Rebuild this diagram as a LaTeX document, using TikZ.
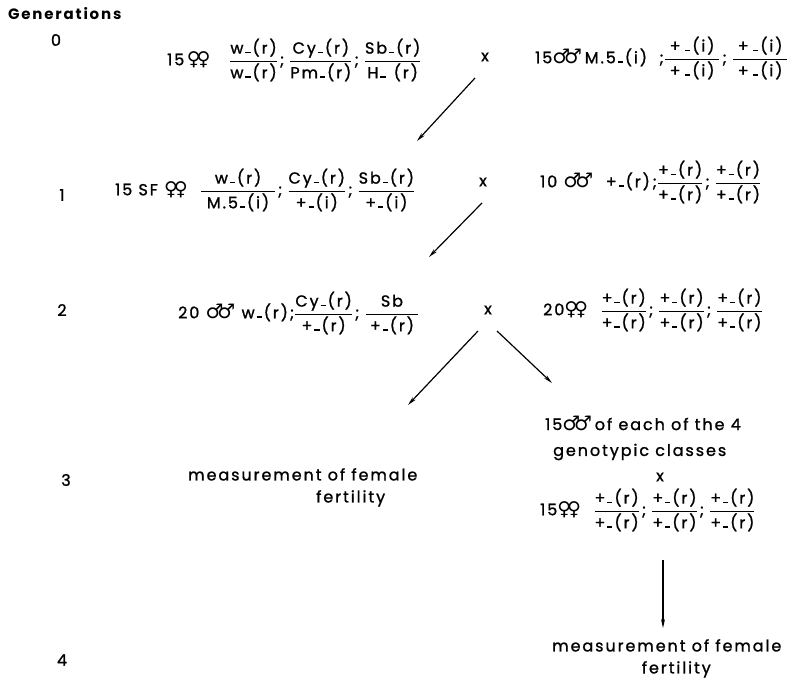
\documentclass[tikz,border=0pt]{standalone}
\usepackage{amsmath}
\usepackage{fontspec}
\setmainfont{Poppins}[LetterSpace=12, UprightFeatures={FakeBold=1.2}]
\newfontfamily\symf{DejaVu Sans}
\usetikzlibrary{arrows.meta}
\newcommand\dsh{\kern0.12em\rule[0.02ex]{0.32em}{0.11em}\kern0.12em}
\newcommand\fr[2]{$\dfrac{\text{#1}}{\text{#2}}$}
\newcommand\frw[3]{$\dfrac{\text{#2}}{\makebox[#1]{#3}}$}
\newcommand\sep{\hspace{2pt};\hspace{5pt}}
\newcommand\ff{{\symf\fontsize{19}{20}\selectfont ♀\kern-0.22em♀}}
\newcommand\mm{{\symf\fontsize{20}{20}\selectfont ♂\kern-0.3em♂}}
\begin{document}
\begin{tikzpicture}[x=1pt,y=-1pt,
  every node/.style={inner sep=0pt, font=\fontsize{16}{22}\selectfont},
  gen/.style={anchor=center},
  formula/.style={anchor=west},
  cross/.style={anchor=center},
  note/.style={align=left, anchor=north west},
  arr/.style={line width=1.2pt, -{Stealth[length=9pt,width=4pt]}}]
\useasboundingbox (0,0) rectangle (790,687);
\node[anchor=west, font=\bfseries\fontsize{15}{18}\selectfont] (head) at (8,14) {Generations};
% row 0
\node[gen] (g0) at (56,40) {0};
\node[formula] (L0) at (167,60) {15\,\ff\ \ \ \fr{w\dsh(r)}{w\dsh(r)}\sep\fr{Cy\dsh(r)}{Pm\dsh(r)}\sep\fr{Sb\dsh(r)}{H\dsh\ (r)}};
\node[cross] (x0) at (485,57) {x};
\node[formula] (R0) at (535,58) {15\mm\,M.5\dsh(i) \ ;\frw{3.4em}{+\,\dsh(i)}{+\,\dsh(i)}\sep\frw{3.4em}{+\,\dsh(i)}{+\,\dsh(i)}};
% row 1
\node[gen] (g1) at (62,195) {1};
\node[formula] (L1) at (115,190) {15 SF \ff\ \ \frw{4.6em}{w\dsh(r)}{M.5\dsh(i)}\sep\fr{Cy\dsh(r)}{+\dsh(i)}\sep\fr{Sb\dsh(r)}{+\dsh(i)}};
\node[cross] (x1) at (483,182) {x};
\node[formula] (R1) at (540,182) {10 \mm\ \ +\dsh(r)\,;\fr{+\dsh(r)}{+\dsh(r)}\sep\fr{+\dsh(r)}{+\dsh(r)}};
% row 2
\node[gen] (g2) at (62,310) {2};
\node[formula] (L2) at (178,313) {20 \mm\ w\dsh(r);\fr{Cy\dsh(r)}{+\dsh(r)}\sep\frw{3.3em}{Sb}{+\dsh(r)}};
\node[cross] (x2) at (488,310) {x};
\node[formula] (R2) at (543,310) {20\ff\ \ \fr{+\dsh(r)}{+\dsh(r)}\sep\fr{+\dsh(r)}{+\dsh(r)}\sep\fr{+\dsh(r)}{+\dsh(r)}};
% row 3
\node[gen] (g3) at (66,480) {3};
\node[note] (M1) at (188,468) {measurement of female\\\hspace*{8em}fertility};
\node[anchor=west] (R3a) at (545,423) {15\mm\,of each of the 4};
\node[anchor=west] (R3b) at (553,452) {genotypic classes};
\node[cross] (x3) at (660,477) {x};
\node[formula] (R3c) at (540,510) {15\ff\ \ \fr{+\dsh(r)}{+\dsh(r)}\sep\fr{+\dsh(r)}{+\dsh(r)}\sep\fr{+\dsh(r)}{+\dsh(r)}};
% row 4
\node[gen] (g4) at (62,660) {4};
\node[note] (M2) at (552,639) {measurement of female\\\hspace*{5.6em}fertility};
% arrows
\coordinate (a1s) at (475,78);  \coordinate (a1e) at (417,141);
\coordinate (a2s) at (482,203); \coordinate (a2e) at (429,257);
\coordinate (a3s) at (478,331); \coordinate (a3e) at (408,405);
\coordinate (a4s) at (497,331); \coordinate (a4e) at (552,383);
\coordinate (a5s) at (663,560); \coordinate (a5e) at (663,628);
\draw[arr] (a1s) -- (a1e);
\draw[arr] (a2s) -- (a2e);
\draw[arr] (a3s) -- (a3e);
\draw[arr] (a4s) -- (a4e);
\draw[arr] (a5s) -- (a5e);
\end{tikzpicture}
\end{document}
